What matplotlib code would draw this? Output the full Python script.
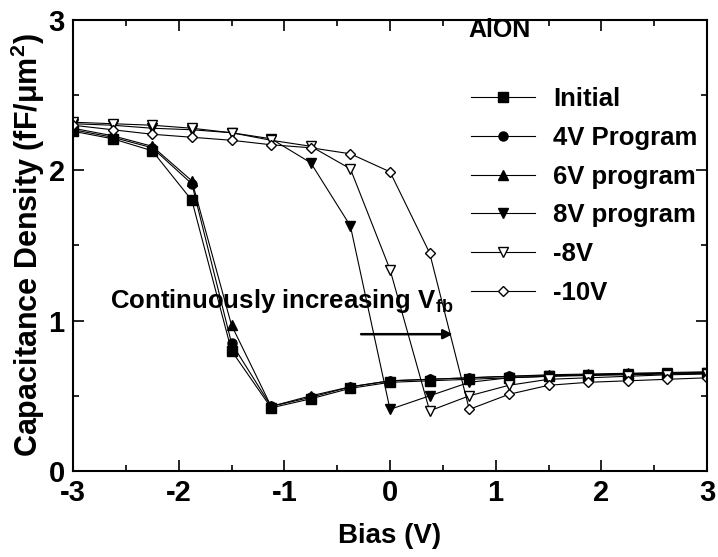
import numpy as np
import matplotlib
matplotlib.use("Agg")
import matplotlib.pyplot as plt
from matplotlib.ticker import MultipleLocator

plt.rcParams['font.family'] = ['Liberation Sans', 'DejaVu Sans']
plt.rcParams['font.weight'] = 'bold'
plt.rcParams['axes.unicode_minus'] = False
plt.rcParams['mathtext.fontset'] = 'custom'
plt.rcParams['mathtext.rm'] = 'Liberation Sans:bold'
plt.rcParams['mathtext.bf'] = 'Liberation Sans:bold'

# --- C-V sweeps of the AlON stack after each program/erase step ---
bias = [-3, -2.625, -2.25, -1.875, -1.5, -1.125, -0.75, -0.375, 0,
        0.375, 0.75, 1.125, 1.5, 1.875, 2.25, 2.625, 3]

c_initial = [2.26, 2.21, 2.13, 1.80, 0.80, 0.42, 0.48, 0.55, 0.59,
             0.60, 0.61, 0.62, 0.63, 0.635, 0.64, 0.645, 0.65]
c_4v = [2.27, 2.22, 2.15, 1.91, 0.85, 0.43, 0.49, 0.56, 0.60,
        0.61, 0.62, 0.63, 0.635, 0.64, 0.645, 0.65, 0.655]
c_6v = [2.28, 2.23, 2.16, 1.93, 0.97, 0.43, 0.50, 0.56, 0.60,
        0.61, 0.62, 0.63, 0.64, 0.645, 0.65, 0.655, 0.66]
c_8v = [2.31, 2.30, 2.28, 2.27, 2.25, 2.21, 2.05, 1.63, 0.41,
        0.50, 0.59, 0.62, 0.63, 0.64, 0.645, 0.65, 0.655]
c_m8v = [2.32, 2.31, 2.30, 2.28, 2.25, 2.20, 2.16, 2.01, 1.34,
         0.40, 0.50, 0.57, 0.61, 0.62, 0.63, 0.64, 0.645]
c_m10v = [2.30, 2.27, 2.24, 2.22, 2.20, 2.17, 2.15, 2.11, 1.99,
          1.45, 0.41, 0.51, 0.57, 0.59, 0.60, 0.61, 0.62]

labels = ['Initial', '4V Program', '6V program', '8V program', '-8V', '-10V']
curves = [c_initial, c_4v, c_6v, c_8v, c_m8v, c_m10v]
markers = ['s', 'o', '^', 'v', 'v', 'D']
filled = [True, True, True, True, False, False]
sizes = [6.5, 6.5, 7, 7, 7, 5.5]

fig = plt.figure(figsize=(7.18, 5.57), dpi=100)
ax = fig.add_axes([0.1017, 0.1544, 0.883, 0.8097])

handles = []
for y, lab, m, f, ms in zip(curves, labels, markers, filled, sizes):
    h, = ax.plot(bias, y, color='black', linewidth=0.8, marker=m, markersize=ms,
                 markerfacecolor='black' if f else 'white',
                 markeredgecolor='black', markeredgewidth=1.0, label=lab)
    handles.append(h)

ax.set_xlim(-3, 3)
ax.set_ylim(0, 3)
ax.xaxis.set_major_locator(MultipleLocator(1))
ax.xaxis.set_minor_locator(MultipleLocator(0.5))
ax.yaxis.set_major_locator(MultipleLocator(1))
ax.yaxis.set_minor_locator(MultipleLocator(0.5))
ax.tick_params(which='both', direction='in', top=True, right=True, width=1.2,
               labelsize=21)
ax.tick_params(axis='x', which='major', pad=6)
ax.tick_params(axis='y', which='major', pad=6)
ax.tick_params(which='major', length=8)
ax.tick_params(which='minor', length=4)
for s in ax.spines.values():
    s.set_linewidth(1.5)

ax.set_xlabel('Bias (V)', fontsize=20, fontweight='bold', labelpad=11)
ax.set_ylabel('Capacitance Density (fF/\u03bcm$^{2}$)', fontsize=22,
              fontweight='bold', labelpad=1)

# legend block on the right
ax.text(0.624, 0.978, 'AlON', transform=ax.transAxes, fontsize=18,
        fontweight='bold', ha='left', va='center')
ax.legend(handles=handles, loc='upper left', bbox_to_anchor=(0.628, 0.852),
          frameon=False, fontsize=18.5, handlelength=2.5, handletextpad=0.7,
          labelspacing=0.58, borderaxespad=0, borderpad=0)

# shift annotation
ax.text(-2.65, 1.13, 'Continuously increasing V$_{\\mathrm{fb}}$', fontsize=18.5,
        fontweight='bold', ha='left', va='center')
ax.annotate('', xy=(0.62, 0.91), xytext=(-0.30, 0.91),
            arrowprops=dict(arrowstyle='-|>', color='black', lw=1.8,
                            mutation_scale=14))

fig.savefig('out.png', dpi=100)
